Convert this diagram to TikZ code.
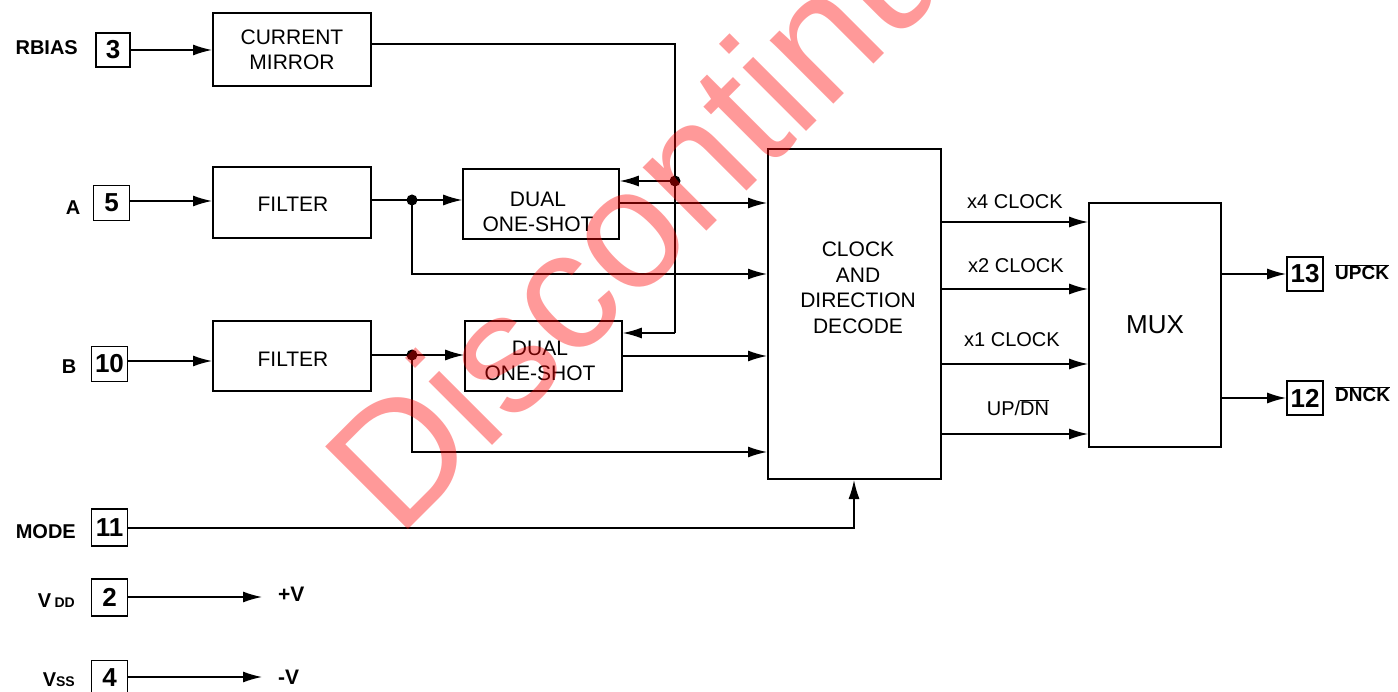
\documentclass[tikz,border=0pt]{standalone}
\usepackage{fontspec}
\setmainfont{Liberation Sans}
\usetikzlibrary{arrows.meta,calc}
\newcommand\ovl[1]{$\overline{\hbox{#1}}$}
\begin{document}
\begin{tikzpicture}[x=1pt,y=-1pt,
  >={Latex[length=19pt,width=11pt]},
  block/.style={draw,line width=2pt,inner sep=0pt,align=center,font=\fontsize{21}{25}\selectfont},
  btext/.style={inner sep=0pt,align=center,font=\fontsize{21}{25.5}\selectfont},
  pin/.style={draw,line width=1.8pt,inner sep=0pt,minimum width=36pt,minimum height=35pt,font=\bfseries\fontsize{26}{26}\selectfont},
  plabel/.style={font=\bfseries\fontsize{20}{20}\selectfont,inner sep=0pt},
  sig/.style={font=\fontsize{20}{20}\selectfont,inner sep=0pt},
  wire/.style={line width=1.4pt},
  jdot/.style={circle,fill=black,inner sep=0pt,minimum size=11pt}
]
\useasboundingbox (0,0) rectangle (1398,692);
\clip (0,0) rectangle (1398,692);
\fill[white] (0,0) rectangle (1398,692);

% pins
\node[pin,minimum width=34pt,minimum height=34pt] (p3) at (113,50) {3};
\node[pin] (p5) at (111.5,203) {5};
\node[pin] (p10) at (109.5,364) {10};
\node[pin,minimum height=37pt] (p11) at (109.5,527.5) {11};
\node[pin,minimum height=37pt] (p2) at (109.5,597.5) {2};
\node[pin] (p4) at (109.5,678) {4};
\node[pin,minimum height=34pt] (p13) at (1305,274) {13};
\node[pin,minimum height=34pt] (p12) at (1305,398) {12};

% pin labels
\node[plabel,anchor=east] (lr) at (78,48) {RBIAS};
\node[plabel] (la) at (73,208) {A};
\node[plabel] (lb) at (69,367) {B};
\node[plabel,anchor=east] (lm) at (76,532) {MODE};
\node[plabel,anchor=east] (lv) at (75,601) {V\,{\fontsize{14}{14}\selectfont DD}};
\node[plabel,anchor=east] (ls) at (75,680) {V{\fontsize{14}{14}\selectfont SS}};
\node[plabel,font=\bfseries\fontsize{21}{21}\selectfont,anchor=west] (lpv) at (278,594) {+V};
\node[plabel,font=\bfseries\fontsize{21}{21}\selectfont,anchor=west] (lmv) at (278,677) {-V};
\node[plabel,font=\bfseries\fontsize{19}{19}\selectfont,anchor=west] (lup) at (1335,272) {\ovl{UPCK}};
\node[plabel,font=\bfseries\fontsize{19}{19}\selectfont,anchor=west] (ldn) at (1335,394) {\ovl{DNCK}};

% blocks
\node[block,minimum width=158pt,minimum height=73pt] (cm) at (292,49.5) {CURRENT\\MIRROR};
\node[block,minimum width=158pt,minimum height=71pt] (fa) at (292,202.5) {};
\node[btext] (fat) at (293,204) {FILTER};
\node[block,minimum width=158pt,minimum height=70pt] (fb) at (292,356) {};
\node[btext] (fbt) at (293,359) {FILTER};
\node[block,line width=1.6pt,minimum width=156pt,minimum height=70pt] (osa) at (541,204) {};
\node[btext] (osat) at (538,212) {DUAL\\ONE-SHOT};
\node[block,line width=1.6pt,minimum width=157pt,minimum height=70pt] (osb) at (543.5,356) {};
\node[btext] (osbt) at (540,361) {DUAL\\ONE-SHOT};
\node[block,minimum width=173pt,minimum height=330pt] (cdd) at (854.5,314) {};
\node[btext,anchor=north] (cddt) at (858,242) {CLOCK\\AND\\DIRECTION\\DECODE};
\node[block,line width=1.8pt,minimum width=132pt,minimum height=244pt,font=\fontsize{26}{26}\selectfont] (mux) at (1155,325) {MUX};

% junctions
\coordinate (dA) at (412,200);
\coordinate (dB) at (412,355);
\coordinate (J) at (675,181);
\coordinate (cmo) at (675,44);
\coordinate (jb) at (675,333);
\coordinate (ma) at (412,274);
\coordinate (mb) at (412,452);
\coordinate (mc) at (854,528);

% connectors
\draw[wire,->] (p3.east) -- (p3.east -| cm.west);
\draw[wire,->] (p5.east |- 0,201) -- (fa.west |- 0,201);
\draw[wire,->] (p10.east |- 0,361) -- (fb.west |- 0,361);
\draw[wire] (cm.east |- cmo) -- (cmo) -- (jb);
\draw[wire,->] (J) -- (osa.east |- J);
\draw[wire,->] (jb) -- (osb.east |- jb);
\draw[wire] (fa.east |- dA) -- (dA);
\draw[wire,->] (dA) -- (osa.west |- dA);
\draw[wire] (fb.east |- dB) -- (dB);
\draw[wire,->] (dB) -- (osb.west |- dB);
\draw[wire,->] (osa.east |- 0,203) -- (cdd.west |- 0,203);
\draw[wire,->] (dA) -- (ma) -- (cdd.west |- ma);
\draw[wire,->] (osb.east |- 0,356) -- (cdd.west |- 0,356);
\draw[wire,->] (dB) -- (mb) -- (cdd.west |- mb);
\draw[wire,->] (p11.east |- mc) -- (mc) -- (cdd.south -| mc);
\draw[wire,->] (p2.east |- 0,597) -- (262,597);
\draw[wire,->] (p4.east |- 0,677) -- (262,677);
\node[jdot] (jdA) at (dA) {};
\node[jdot] (jdB) at (dB) {};
\node[jdot] (jJ) at (J) {};

% cdd to mux
\draw[wire,->] (cdd.east |- 0,222) -- (mux.west |- 0,222);
\draw[wire,->] (cdd.east |- 0,289) -- (mux.west |- 0,289);
\draw[wire,->] (cdd.east |- 0,364) -- (mux.west |- 0,364);
\draw[wire,->] (cdd.east |- 0,434) -- (mux.west |- 0,434);
\node[sig] (s4) at (1015,202) {x4 CLOCK};
\node[sig] (s2) at (1016,266) {x2 CLOCK};
\node[sig] (s1) at (1012,340) {x1 CLOCK};
\node[sig] (sud) at (1018,408) {UP/\ovl{DN}};
\draw[wire,->] (mux.east |- p13) -- (p13.west);
\draw[wire,->] (mux.east |- p12) -- (p12.west);

% watermark
\node[rotate=45,anchor=base west,inner sep=0pt,text=red,text opacity=0.4,
  font=\fontsize{170}{170}\selectfont] (wm) at (398,540) {Discontinued};
\end{tikzpicture}
\end{document}
